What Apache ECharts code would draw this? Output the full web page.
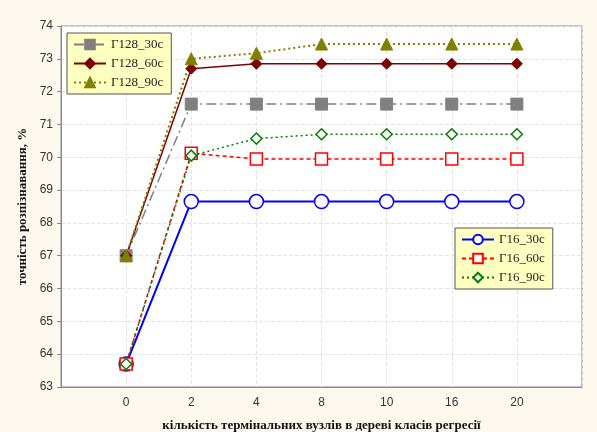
<!DOCTYPE html>
<html><head><meta charset="utf-8">
<script src="https://cdn.jsdelivr.net/npm/echarts@6/dist/echarts.min.js"></script>
<style>html,body{margin:0;padding:0;background:#fdf9ee;}#c{width:597px;height:432px;}</style>
</head><body><div id="c"></div>
<script>
const categories = ['0','2','4','8','10','16','20'];
const g128_30 = [67.0, 71.62, 71.62, 71.62, 71.62, 71.62, 71.62];
const g128_60 = [67.0, 72.7, 72.85, 72.85, 72.85, 72.85, 72.85];
const g128_90 = [67.0, 73.0, 73.17, 73.45, 73.45, 73.45, 73.45];
const g16_30 = [63.7, 68.65, 68.65, 68.65, 68.65, 68.65, 68.65];
const g16_60 = [63.7, 70.12, 69.95, 69.95, 69.95, 69.95, 69.95];
const g16_90 = [63.7, 70.05, 70.57, 70.7, 70.7, 70.7, 70.7];
const yTicks = [63,64,65,66,67,68,69,70,71,72,73,74];

const toXY = arr => arr.map((v,i)=>[i,v]);
const chart = echarts.init(document.getElementById('c'));
const serif = 'Liberation Serif';
function s(name, data, color, type, width, symbol, size, filled){
  return {name, type:'line', data:toXY(data), symbol, symbolSize:size,
    lineStyle:{color, type, width},
    itemStyle: filled ? {color, borderColor:color, borderWidth:1} : {color:'#fff', borderColor:color, borderWidth:1.5},
    z: 3};
}
const legendCommon = {orient:'vertical', backgroundColor:'#ffffc0', borderColor:'#555', borderWidth:1,
  padding:[5,8,5,6], itemGap:6, itemWidth:32, itemHeight:12,
  textStyle:{fontFamily:serif, fontSize:13, color:'#222'}};
chart.setOption({
  backgroundColor:'#fdf9ee',
  animation:false,
  grid:{left:61, top:26, right:15, bottom:45, containLabel:false, outerBoundsMode:'none',
    show:true, backgroundColor:'#fff', borderColor:'#888', borderWidth:1},
  xAxis:{type:'value', min:-1, max:7, interval:1,
    axisLine:{show:true, onZero:false, lineStyle:{color:'#888'}}, axisTick:{show:false},
    axisLabel:{color:'#333', fontFamily:'Liberation Sans', fontSize:12, margin:10,
      formatter: v => (v>=0 && v<categories.length) ? categories[v] : ''},
    splitLine:{show:true, lineStyle:{color:'#e4e4e4', type:'dashed'}},
    name:'кількість термінальних вузлів в дереві класів регресії', nameLocation:'middle', nameGap:32,
    nameTextStyle:{fontFamily:serif, fontWeight:'bold', fontSize:13, color:'#111'}},
  yAxis:{type:'value', min:yTicks[0], max:yTicks[yTicks.length-1], interval:1,
    axisLine:{show:true, onZero:false, lineStyle:{color:'#888'}}, axisTick:{show:true, inside:false, length:4, lineStyle:{color:'#888'}},
    axisLabel:{color:'#333', fontFamily:'Liberation Sans', fontSize:12, margin:8},
    splitLine:{show:true, lineStyle:{color:'#e4e4e4', type:'dashed'}},
    name:'точність розпізнавання, %', nameLocation:'middle', nameGap:30,
    nameTextStyle:{fontFamily:serif, fontWeight:'bold', fontSize:13, color:'#111'}},
  legend:[
    Object.assign({data:['Г128_30с','Г128_60с','Г128_90с'], left:67, top:33}, legendCommon),
    Object.assign({data:['Г16_30с','Г16_60с','Г16_90с'], left:455, top:228}, legendCommon)
  ],
  series:[
    s('Г128_30с', g128_30, '#808080', [10,4,2,4], 1.5, 'rect', 12, true),
    s('Г128_60с', g128_60, '#800000', 'solid', 1.5, 'diamond', 11, true),
    s('Г128_90с', g128_90, '#808000', [2,3], 2, 'triangle', 12, true),
    s('Г16_30с', g16_30, '#0000ff', 'solid', 2, 'circle', 14, false),
    s('Г16_60с', g16_60, '#ff0000', [4,3], 1.5, 'rect', 12, false),
    s('Г16_90с', g16_90, '#008000', [2,3], 1.5, 'diamond', 11, false)
  ]
});
</script></body></html>
